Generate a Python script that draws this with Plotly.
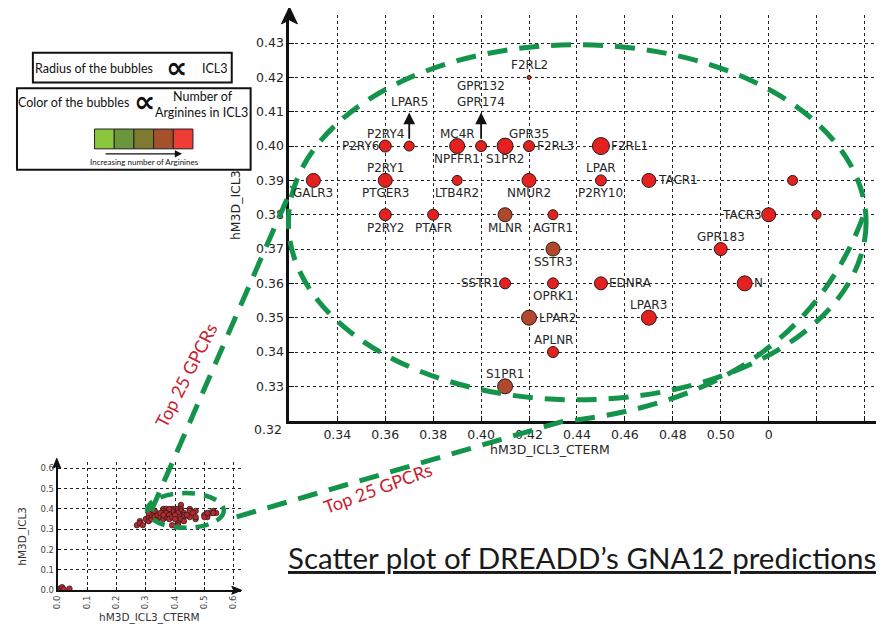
import plotly.graph_objects as go

# ---------------- main chart data (top GPCRs) ----------------
cterm = [0.42, 0.36, 0.37, 0.39, 0.40, 0.41, 0.42, 0.45,
         0.33, 0.36, 0.39, 0.42, 0.45, 0.47, 0.53,
         0.36, 0.38, 0.41, 0.43, 0.52, 0.54,
         0.43, 0.50,
         0.41, 0.43, 0.45, 0.51,
         0.42, 0.47,
         0.43,
         0.41]
icl3 = [0.42, 0.40, 0.40, 0.40, 0.40, 0.40, 0.40, 0.40,
        0.39, 0.39, 0.39, 0.39, 0.39, 0.39, 0.39,
        0.38, 0.38, 0.38, 0.38, 0.38, 0.38,
        0.37, 0.37,
        0.36, 0.36, 0.36, 0.36,
        0.35, 0.35,
        0.34,
        0.33]
icl3_len = [4, 12, 10, 15, 11, 16, 11, 17,
            14, 14, 10, 14, 11, 14, 10,
            12, 11, 14, 10, 14, 9,
            14, 13,
            11, 11, 13, 15,
            15, 15,
            11,
            15]
n_arg = [4, 4, 4, 4, 4, 4, 4, 4,
         4, 4, 4, 4, 4, 4, 4,
         4, 4, 3, 4, 4, 4,
         3, 4,
         4, 4, 4, 4,
         3, 4,
         4,
         3]

# labels: (text, point index, side)
labels = [("F2RL2", 0, "above"), ("P2RY4", 1, "above"), ("P2RY6", 1, "left"),
          ("MC4R", 3, "above"), ("NPFFR1", 3, "below"), ("S1PR2", 5, "below"),
          ("GPR35", 6, "above"), ("F2RL3", 6, "right"), ("F2RL1", 7, "right"),
          ("GALR3", 8, "below"), ("P2RY1", 9, "above"), ("PTGER3", 9, "below"),
          ("LTB4R2", 10, "below"), ("NMUR2", 11, "below"), ("LPAR", 12, "above"),
          ("P2RY10", 12, "below"), ("TACR1", 13, "right"), ("P2RY2", 15, "below"),
          ("PTAFR", 16, "below"), ("MLNR", 17, "below"), ("AGTR1", 18, "below"),
          ("TACR3", 19, "left"), ("SSTR3", 21, "below"), ("GPR183", 22, "above"),
          ("SSTR1", 23, "left"), ("OPRK1", 24, "below"), ("EDNRA", 25, "right"),
          ("N", 26, "right"), ("LPAR2", 27, "right"), ("LPAR3", 28, "above"),
          ("APLNR", 29, "above"), ("S1PR1", 30, "above")]
arrow_labels = [("LPAR5", 2), ("GPR132<br>GPR174", 4)]

x_ticks = [0.34, 0.36, 0.38, 0.40, 0.42, 0.44, 0.46, 0.48, 0.50, 0.52, 0.54, 0.56]
x_ticktext = ["0.34", "0.36", "0.38", "0.40", "0.42", "0.44", "0.46", "0.48", "0.50", "0", "", ""]
y_ticks = [0.33, 0.34, 0.35, 0.36, 0.37, 0.38, 0.39, 0.40, 0.41, 0.42, 0.43]
y_ticktext = ["0.33", "0.34", "0.35", "0.36", "0.37", "0.38", "0.39", "0.40", "0.41", "0.42", "0.43"]

# ---------------- inset (all GPCRs) extra points ----------------
inset_cterm_extra = [0.27, 0.28, 0.28, 0.29, 0.30, 0.31, 0.31, 0.32, 0.32, 0.33,
                     0.34, 0.34, 0.35, 0.35, 0.36, 0.37, 0.37, 0.38, 0.38, 0.39,
                     0.39, 0.40, 0.40, 0.41, 0.44, 0.46, 0.47, 0.50, 0.51, 0.53,
                     0.31, 0.33, 0.36, 0.38,
                     0.01, 0.015, 0.02, 0.04]
inset_icl3_extra = [0.32, 0.34, 0.33, 0.32, 0.35, 0.36, 0.34, 0.35, 0.37, 0.36,
                    0.35, 0.37, 0.36, 0.38, 0.35, 0.36, 0.38, 0.37, 0.35, 0.32,
                    0.36, 0.37, 0.35, 0.32, 0.37, 0.38, 0.36, 0.36, 0.38, 0.38,
                    0.38, 0.39, 0.37, 0.40,
                    0.01, 0.015, 0.005, 0.008]
inset_ticks = [0.0, 0.1, 0.2, 0.3, 0.4, 0.5, 0.6]
inset_ticktext = ["0.0", "0.1", "0.2", "0.3", "0.4", "0.5", "0.6"]

# legend colour scale (increasing number of arginines)
arg_scale = ["#8cc63f", "#6a973b", "#7e7a30", "#a3522b", "#ee3d37"]
marker_palette = {3: "#b2482b", 4: "#e3211f"}

# ---------------- helpers ----------------
OFF = 8                       # page body margin
W, H = 884 - OFF, 630 - OFF   # figure size


def PX(x):
    return (x - OFF) / W


def PY(y):
    return 1 - (y - OFF) / H


GREEN = "#13944a"
DASH = "20px,12px"
SANS = "Lato, Open Sans, sans-serif"
DV = "DejaVu Sans, Bitstream Vera Sans, sans-serif"
TXT = "#262626"


def pa(x, y, text, size, family=SANS, color="#111", xanchor="center", yanchor="middle", **kw):
    d = dict(x=PX(x), y=PY(y), xref="paper", yref="paper", text=text, showarrow=False,
             xanchor=xanchor, yanchor=yanchor, font=dict(family=family, size=size, color=color))
    d.update(kw)
    return d


fig = go.Figure()

# inset scatter
fig.add_trace(go.Scatter(
    x=cterm + inset_cterm_extra, y=icl3 + inset_icl3_extra,
    mode="markers", xaxis="x2", yaxis="y2", hoverinfo="skip",
    marker=dict(size=5.5, color="#c0262a", line=dict(color="#222", width=0.8)),
    showlegend=False))

# main bubbles
fig.add_trace(go.Scatter(
    x=cterm, y=icl3, mode="markers", xaxis="x", yaxis="y",
    marker=dict(size=icl3_len, color=[marker_palette[a] for a in n_arg],
                line=dict(color="#2a1a1a", width=1), opacity=1),
    showlegend=False))

annotations = []
for text, i, side in labels:
    r = icl3_len[i] / 2
    a = dict(x=cterm[i], y=icl3[i], xref="x", yref="y", text=text, showarrow=False,
             xanchor="center", yanchor="middle",
             font=dict(family=DV, size=12, color=TXT))
    if side == "above":
        a.update(yshift=12.5)
    elif side == "below":
        a.update(yshift=-13)
    elif side == "left":
        a.update(xanchor="right", xshift=-r + 2)
    else:
        a.update(xanchor="left", xshift=r)
    annotations.append(a)

for text, i in arrow_labels:
    annotations.append(dict(x=cterm[i], y=0.4098, ax=cterm[i], ay=0.4017,
                            xref="x", yref="y", axref="x", ayref="y", text="",
                            showarrow=True, arrowhead=2, arrowsize=1.3, arrowwidth=1.8,
                            arrowcolor="#111", standoff=0, startstandoff=0))
    annotations.append(dict(x=cterm[i], y=0.41, xref="x", yref="y", text=text,
                            showarrow=False, xanchor="center", yanchor="bottom", yshift=1,
                            font=dict(family=DV, size=12, color=TXT)))

# axis titles & stray tick label
annotations += [
    pa(548, 453, "hM3D_ICL3_CTERM", 12.5, DV, TXT),
    pa(232, 207, "hM3D_ICL3", 12.5, DV, TXT, textangle=-90),
    pa(281, 433, "0.32", 12.5, DV, TXT, xanchor="right"),
    pa(145, 622, "hM3D_ICL3_CTERM", 10.5, DV, "#333"),
    pa(18, 540, "hM3D_ICL3", 10.5, DV, "#333", textangle=-90),
]

# red "Top 25 GPCRs" labels
annotations += [
    pa(182, 378, "Top 25 GPCRs", 18, SANS, "#c8202e", textangle=-63),
    pa(375, 492, "Top 25 GPCRs", 18, SANS, "#c8202e", textangle=-20),
]

# title
annotations.append(pa(580, 562, "<u>Scatter plot of DREADD\u2019s GNA12 predictions</u>",
                      29.5, SANS, "#1a1a1a"))

# legend boxes text
annotations += [
    pa(28, 69, "Radius of the bubbles", 12.5, xanchor="left"),
    pa(172, 68, "<b>\u221d</b>", 30, DV),
    pa(211, 69, "ICL3", 12.5),
    pa(11, 103, "Color of the bubbles", 12.5, xanchor="left"),
    pa(140, 102, "<b>\u221d</b>", 30, DV),
    pa(199, 97, "Number of", 12.5),
    pa(198, 113, "Arginines in ICL3", 12.5),
    pa(140, 163, "Increasing number of Arginines", 8),
    dict(x=PX(178), y=PY(155), ax=-78, ay=0, xref="paper", yref="paper",
         axref="pixel", ayref="pixel", text="", showarrow=True, arrowhead=2,
         arrowsize=1.2, arrowwidth=1.2, arrowcolor="#111", standoff=0),
]

shapes = []
# legend boxes
shapes.append(dict(type="rect", xref="paper", yref="paper", x0=PX(28), x1=PX(228),
                   y0=PY(83), y1=PY(53), line=dict(color="#111", width=2)))
shapes.append(dict(type="rect", xref="paper", yref="paper", x0=PX(12), x1=PX(247),
                   y0=PY(171), y1=PY(89), line=dict(color="#111", width=2)))
# colour squares
sq_w = (189 - 90) / len(arg_scale)
for k, c in enumerate(arg_scale):
    shapes.append(dict(type="rect", xref="paper", yref="paper",
                       x0=PX(90 + k * sq_w), x1=PX(90 + (k + 1) * sq_w),
                       y0=PY(150), y1=PY(130), fillcolor=c,
                       line=dict(color="#222", width=1)))


def path(points, close=False):
    s = "M " + " L ".join(f"{PX(x):.5f},{PY(y):.5f}" for x, y in points)
    return s + (" Z" if close else "")


# axis arrow heads
shapes.append(dict(type="path", xref="paper", yref="paper",
                   path=path([(278, 24), (286, 7), (294, 24), (286, 20)], True),
                   fillcolor="#111", line=dict(color="#111", width=1)))
shapes.append(dict(type="path", xref="paper", yref="paper",
                   path=path([(48, 472), (52, 462), (56, 472), (52, 470)], True),
                   fillcolor="#111", line=dict(color="#111", width=1)))
shapes.append(dict(type="path", xref="paper", yref="paper",
                   path=path([(228, 591), (238, 595), (228, 599), (230, 595)], True),
                   fillcolor="#111", line=dict(color="#111", width=1)))

# green dashed ellipses and connectors
shapes.append(dict(type="circle", xref="paper", yref="paper", x0=PX(285), x1=PX(866),
                   y0=PY(403), y1=PY(45), line=dict(color=GREEN, width=5, dash=DASH)))
shapes.append(dict(type="circle", xref="paper", yref="paper", x0=PX(143), x1=PX(220),
                   y0=PY(532), y1=PY(497), line=dict(color=GREEN, width=4.5, dash="13px,9px")))
shapes.append(dict(type="path", xref="paper", yref="paper",
                   path=path([(147, 515), (289, 188)]),
                   line=dict(color=GREEN, width=5, dash=DASH)))
p0, p1, c1, p2 = (233, 521), (560, 425), (800, 400), (866, 210)
qpath = (f"M {PX(p0[0]):.5f},{PY(p0[1]):.5f} L {PX(p1[0]):.5f},{PY(p1[1]):.5f} "
         f"Q {PX(c1[0]):.5f},{PY(c1[1]):.5f} {PX(p2[0]):.5f},{PY(p2[1]):.5f}")
shapes.append(dict(type="path", xref="paper", yref="paper", path=qpath,
                   line=dict(color=GREEN, width=5, dash=DASH)))

axis_common = dict(showline=True, linecolor="#111", ticks="inside", tickcolor="#111",
                   showgrid=True, gridcolor="#222", griddash="dot", zeroline=False)

fig.update_layout(
    width=W, height=H, margin=dict(l=0, r=0, t=0, b=0),
    paper_bgcolor="white", plot_bgcolor="rgba(0,0,0,0)",
    xaxis=dict(domain=[PX(286), 1.0], range=[0.32, 0.32 + (884 - 286) / 2410],
               tickvals=x_ticks, ticktext=x_ticktext, linewidth=3, ticklen=5,
               gridwidth=1.2, tickfont=dict(family=DV, size=12.5, color=TXT), **axis_common),
    yaxis=dict(domain=[PY(424), PY(15)], range=[0.32, 0.32 + 409 / 3460],
               tickvals=y_ticks, ticktext=y_ticktext, linewidth=3, ticklen=5,
               gridwidth=1.2, tickfont=dict(family=DV, size=12.5, color=TXT), **axis_common),
    xaxis2=dict(domain=[PX(53), PX(237)], range=[0, (237 - 53) / 295], anchor="y2",
                tickvals=inset_ticks, ticktext=inset_ticktext, tickangle=-90, linewidth=2,
                ticklen=3, gridwidth=1, tickfont=dict(family=DV, size=8.5, color="#444"),
                **axis_common),
    yaxis2=dict(domain=[PY(595), PY(466)], range=[0, (595 - 466) / 205],
                anchor="x2", tickvals=inset_ticks, ticktext=inset_ticktext, linewidth=2,
                ticklen=3, gridwidth=1, tickfont=dict(family=DV, size=8.5, color="#444"),
                **axis_common),
    annotations=annotations, shapes=shapes, showlegend=False,
)

fig.write_html("out.html")
